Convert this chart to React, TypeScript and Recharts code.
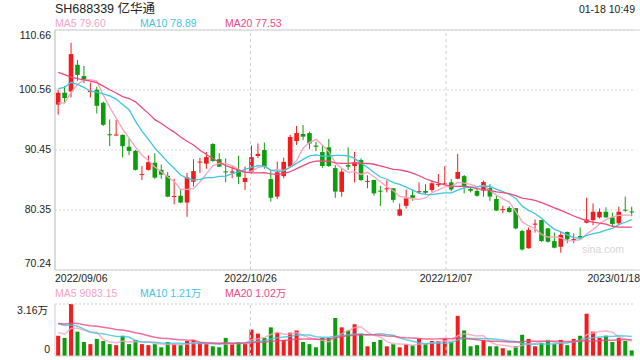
import React from 'react';
import {
  ComposedChart,
  Bar,
  Line,
  XAxis,
  YAxis,
  CartesianGrid,
  ReferenceLine,
  ReferenceArea,
} from 'recharts';

// ---------- data ----------
const title = 'SH688339 亿华通';
const timeLabel = '01-18 10:49';
const priceLegend = ['MA5 79.60', 'MA10 78.89', 'MA20 77.53'];
const volLegend = ['MA5 9083.15', 'MA10 1.21万', 'MA20 1.02万'];
const priceTicks = [70.24, 80.35, 90.45, 100.56, 110.66];
const priceTickLabels = ['70.24', '80.35', '90.45', '100.56', '110.66'];
const volTicks = [0, 31600];
const volTickLabels = ['0', '3.16万'];
const dateTickPos = [0, 30, 60, 90];
const dateTickLabels = ['2022/09/06', '2022/10/26', '2022/12/07', '2023/01/18'];

// closes before the visible window (only used for moving averages)
const priorCloses = [
  107.0, 114.6, 108.5, 106.5, 104.5, 103.1, 106.5, 105.0, 104.0, 103.1,
  97.0, 98.1, 106.6, 107.2, 106.9, 99.5, 97.5, 96.5, 98.4,
];
const priorVolumes = [
  18000, 22000, 17000, 25000, 20000, 16000, 21000, 19000, 23000, 17000,
  24000, 28000, 22000, 27000, 26000, 16000, 13000, 15000, 14700,
];

const opens = [
  98.1, 100.1, 100.3, 104.8, 102.9, 100.2, 100.6, 98.4, 93.1, 92.95,
  93.0, 91.0, 90.3, 86.25, 87.1, 88.3, 87.1, 86.1, 82.55, 82.75,
  81.6, 85.1, 88.4, 88.15, 91.45, 88.9, 86.85, 86.65, 87.1, 85.05,
  86.8, 89.45, 90.45, 85.55, 82.6, 86.05, 87.65, 91.95, 93.15, 93.3,
  91.2, 90.1, 90.9, 87.4, 83.4, 87.9, 87.75, 88.75, 85.1, 85.4,
  83.6, 83.85, 84.0, 79.4, 81.05, 82.85, 83.35, 83.55, 83.7, 84.6,
  84.7, 85.0, 85.6, 86.05, 83.9, 83.55, 83.6, 84.05, 82.2, 80.4,
  80.7, 80.65, 76.8, 73.9, 77.95, 78.65, 77.25, 75.1, 74.15, 76.65,
  75.35, 75.95, 78.2, 78.65, 79.1, 80.05, 79.1, 78.1, 80.4, 80.1,
];
const highs = [
  100.6, 101.2, 108.5, 105.6, 104.6, 101.8, 101.1, 98.6, 95.6, 95.5,
  93.05, 92.4, 90.45, 87.75, 89.55, 89.9, 88.0, 86.75, 85.6, 83.7,
  86.6, 88.9, 89.15, 90.1, 91.6, 89.9, 89.05, 87.75, 89.5, 87.65,
  91.2, 91.55, 91.7, 87.1, 88.5, 89.15, 93.0, 94.5, 94.65, 93.55,
  91.85, 91.3, 92.3, 87.9, 87.35, 90.9, 90.15, 89.05, 86.2, 85.45,
  84.4, 85.35, 84.05, 81.45, 83.8, 83.7, 85.0, 84.7, 85.3, 86.4,
  87.75, 85.55, 89.8, 86.25, 84.25, 83.95, 85.3, 84.7, 82.7, 81.05,
  81.0, 80.7, 77.0, 77.4, 78.75, 78.7, 77.3, 76.55, 76.7, 76.7,
  76.4, 77.4, 82.4, 81.45, 80.6, 80.8, 79.9, 80.9, 82.6, 80.9,
];
const lows = [
  96.4, 98.4, 99.3, 102.1, 101.7, 99.3, 96.6, 94.5, 91.1, 92.9,
  89.2, 89.6, 87.0, 85.4, 87.0, 85.6, 85.6, 82.5, 81.3, 81.5,
  79.2, 84.3, 86.6, 87.3, 88.5, 87.6, 85.0, 85.7, 84.7, 83.7,
  86.5, 89.1, 87.3, 81.75, 82.2, 85.7, 87.6, 91.3, 92.1, 90.6,
  90.3, 87.45, 87.6, 82.4, 82.6, 87.1, 85.0, 85.2, 84.0, 82.75,
  81.05, 83.3, 81.6, 79.3, 80.6, 81.9, 83.05, 83.05, 83.4, 84.25,
  84.6, 83.5, 85.55, 83.15, 83.3, 82.6, 82.6, 81.9, 80.2, 79.8,
  79.9, 77.1, 73.5, 73.85, 76.55, 75.0, 74.85, 73.9, 73.15, 74.75,
  74.75, 75.4, 78.1, 77.8, 78.9, 79.05, 77.65, 78.0, 80.05, 79.3,
];
const closes = [
  100.1, 99.2, 106.6, 103.1, 102.2, 100.4, 97.9, 94.7, 93.0, 93.05,
  91.1, 90.3, 87.1, 86.4, 88.4, 85.8, 86.3, 82.6, 82.7, 81.6,
  85.85, 86.9, 88.5, 89.25, 88.6, 87.65, 86.7, 86.85, 85.95, 85.75,
  89.25, 89.8, 87.65, 82.4, 86.7, 88.45, 92.65, 93.3, 92.7, 91.55,
  91.0, 87.75, 87.75, 83.45, 86.8, 87.65, 88.35, 85.4, 85.25, 83.15,
  83.45, 84.0, 82.05, 80.45, 82.3, 82.4, 83.5, 83.25, 84.85, 84.7,
  84.85, 83.8, 86.75, 84.25, 83.6, 82.75, 85.05, 82.6, 80.25, 80.5,
  80.0, 77.25, 73.7, 77.0, 78.05, 75.1, 75.0, 74.0, 76.15, 75.4,
  75.45, 75.7, 78.75, 80.05, 80.05, 79.1, 78.0, 80.05, 80.25, 80.0,
];
const volumes = [
  12300, 11000, 31600, 14800, 8500, 7200, 10400, 9100, 7200, 6600,
  12300, 7200, 9800, 7200, 6600, 7200, 5300, 8500, 7200, 6600,
  9100, 9800, 7800, 7200, 5900, 5300, 11000, 7200, 8500, 7200,
  16100, 13600, 11000, 17400, 14200, 9800, 14200, 15500, 8500, 7200,
  5300, 11000, 11000, 23100, 17400, 15500, 19300, 13600, 5900, 8500,
  9800, 5900, 7200, 5300, 7200, 6600, 10400, 7200, 9100, 9100,
  10400, 8500, 24400, 15500, 5900, 6600, 9800, 5900, 5900, 4700,
  3400, 5900, 12900, 10400, 5900, 7800, 9800, 7200, 9800, 6600,
  10400, 12300, 25700, 14800, 11000, 12300, 8500, 11000, 9100, 3400,
];

// ---------- styles ----------
const RED = '#f21c1c';
const GREEN = '#0b9d0b';
const MA5C = '#f7a3bf';
const MA10C = '#3fc5e2';
const MA20C = '#ec4a7f';
const FONT = '"Liberation Sans", Arial, "Noto Sans CJK SC", sans-serif';
const TXT = '#222';
const FRAME = '#cfcfcf';
const GRIDV = '#cccccc';

const P = priorCloses.length;
const allCloses = [...priorCloses, ...closes];
const allVols = [...priorVolumes, ...volumes];
const avg = (arr: number[], n: number, k: number) => {
  let s = 0;
  for (let j = k + P - n + 1; j <= k + P; j++) s += arr[j];
  return s / n;
};

const data = closes.map((c, k) => ({
  i: k,
  open: opens[k],
  high: highs[k],
  low: lows[k],
  close: c,
  range: [lows[k], highs[k]],
  up: c >= opens[k],
  ma5: avg(allCloses, 5, k),
  ma10: avg(allCloses, 10, k),
  ma20: avg(allCloses, 20, k),
  vol: volumes[k],
  vma5: avg(allVols, 5, k),
  vma10: avg(allVols, 10, k),
  vma20: avg(allVols, 20, k),
}));

// ---------- shapes ----------
const Candle = (props: any) => {
  const { x, y, width, height, payload } = props;
  const top = Math.min(y, y + height);
  const h = Math.abs(height);
  const { open, close, high, low, up } = payload;
  const color = up ? RED : GREEN;
  const ppu = h / (high - low);
  const yO = top + (high - open) * ppu;
  const yC = top + (high - close) * ppu;
  const cx = x + width / 2;
  const bw = 4.6;
  const bTop = Math.min(yO, yC);
  const bh = Math.max(1, Math.abs(yO - yC));
  return (
    <g>
      <line x1={cx} x2={cx} y1={top} y2={top + h} stroke={color} strokeWidth={1} />
      <rect x={cx - bw / 2} y={bTop} width={bw} height={bh} fill={color} />
    </g>
  );
};

const VolBar = (props: any) => {
  const { x, y, width, height, payload } = props;
  const top = Math.min(y, y + height);
  const h = Math.abs(height);
  const bw = 4;
  return (
    <rect
      x={x + width / 2 - bw / 2}
      y={top}
      width={bw}
      height={h}
      fill={payload.up ? RED : GREEN}
    />
  );
};

const PriceTick = (props: any) => {
  const { x, y, index } = props;
  const last = priceTicks.length - 1;
  const dy = index === 0 ? -2.7 : index === last ? 9.3 : 3.3;
  return (
    <text x={x - 4} y={y + dy} textAnchor="end" fontSize={10.5} fontFamily={FONT} fill={TXT}>
      {priceTickLabels[index]}
    </text>
  );
};

const VolTick = (props: any) => {
  const { x, y, index } = props;
  const dy = index === 0 ? -3 : 10;
  const dx = index === 0 ? -5 : -7;
  return (
    <text x={x + dx} y={y + dy} textAnchor="end" fontSize={10.5} fontFamily={FONT} fill={TXT}>
      {volTickLabels[index]}
    </text>
  );
};

// date label drawn under a vertical reference line, using the line's viewBox
const DateLabel = (props: any) => {
  const { viewBox, idx } = props;
  if (!viewBox) return null;
  const last = dateTickPos.length - 1;
  const anchor = idx === 0 ? 'start' : idx === last ? 'end' : 'middle';
  const dx = idx === last ? -1.5 : 0;
  return (
    <text
      x={viewBox.x + dx}
      y={viewBox.y + viewBox.height + 11.7}
      textAnchor={anchor}
      fontSize={10.5}
      fontFamily={FONT}
      fill={TXT}
    >
      {dateTickLabels[idx]}
    </text>
  );
};

export default function App() {
  const legendX = [55, 140, 225];
  const legendC = [MA5C, MA10C, MA20C];
  const lastDate = dateTickPos.length - 1;
  return (
    <div style={{ position: 'absolute', left: 0, top: 0, width: 640, height: 360, background: '#fff' }}>
      {/* price panel */}
      <div style={{ position: 'absolute', left: 0, top: 0 }}>
        <ComposedChart
          width={640}
          height={290}
          data={data}
          margin={{ top: 30, right: 5, bottom: 20, left: 0 }}
        >
          <CartesianGrid vertical={false} stroke="#d8d8d8" strokeDasharray="2 2" />
          <XAxis dataKey="i" hide />
          <XAxis xAxisId="d" type="number" domain={[0, 90]} allowDataOverflow hide />
          <YAxis
            domain={[70.24, 110.66]}
            ticks={priceTicks}
            interval={0}
            allowDataOverflow
            width={55}
            axisLine={false}
            tickLine={false}
            tickSize={0}
            tickMargin={0}
            tick={<PriceTick />}
          />
          {dateTickPos.map((p, j) => {
            const edge = j === 0 || j === lastDate;
            return (
              <ReferenceLine
                key={'d' + j}
                xAxisId="d"
                x={p}
                ifOverflow="visible"
                stroke={edge ? FRAME : GRIDV}
                strokeDasharray={edge ? undefined : '3 3'}
                label={<DateLabel idx={j} />}
              />
            );
          })}
          <ReferenceArea
            xAxisId="d"
            x1={0}
            x2={90}
            y1={70.24}
            y2={110.66}
            ifOverflow="visible"
            fill="none"
            fillOpacity={0}
            stroke={FRAME}
            strokeOpacity={1}
          />
          <Bar dataKey="range" shape={Candle} isAnimationActive={false} />
          <Line dataKey="ma5" stroke={MA5C} strokeWidth={1.3} dot={false} isAnimationActive={false} />
          <Line dataKey="ma10" stroke={MA10C} strokeWidth={1.3} dot={false} isAnimationActive={false} />
          <Line dataKey="ma20" stroke={MA20C} strokeWidth={1.3} dot={false} isAnimationActive={false} />
        </ComposedChart>
      </div>

      {/* volume panel */}
      <div style={{ position: 'absolute', left: 0, top: 0 }}>
        <ComposedChart
          width={640}
          height={360}
          data={data}
          margin={{ top: 304, right: 5, bottom: 4, left: 0 }}
        >
          <XAxis dataKey="i" hide />
          <XAxis xAxisId="d" type="number" domain={[0, 90]} allowDataOverflow hide />
          <YAxis
            domain={[0, 31600]}
            ticks={volTicks}
            interval={0}
            allowDataOverflow
            width={55}
            axisLine={false}
            tickLine={false}
            tickSize={0}
            tickMargin={0}
            tick={<VolTick />}
          />
          <ReferenceLine xAxisId="d" x={30} ifOverflow="visible" stroke={GRIDV} strokeDasharray="3 3" />
          <ReferenceLine xAxisId="d" x={60} ifOverflow="visible" stroke={GRIDV} strokeDasharray="3 3" />
          <ReferenceLine y={31600} ifOverflow="visible" stroke={GRIDV} strokeDasharray="2 2" />
          <ReferenceLine xAxisId="d" x={0} ifOverflow="visible" stroke={FRAME} />
          <ReferenceLine xAxisId="d" x={90} ifOverflow="visible" stroke={FRAME} />
          <ReferenceLine y={0} ifOverflow="visible" stroke={FRAME} />
          <Bar dataKey="vol" shape={VolBar} isAnimationActive={false} />
          <Line dataKey="vma5" stroke={MA5C} strokeWidth={1.5} strokeOpacity={0.8} dot={false} isAnimationActive={false} />
          <Line dataKey="vma10" stroke={MA10C} strokeWidth={1.5} strokeOpacity={0.8} dot={false} isAnimationActive={false} />
          <Line dataKey="vma20" stroke={MA20C} strokeWidth={1.5} strokeOpacity={0.8} dot={false} isAnimationActive={false} />
        </ComposedChart>
      </div>

      {/* header texts */}
      <svg
        width={640}
        height={360}
        style={{ position: 'absolute', left: 0, top: 0, pointerEvents: 'none' }}
      >
        <text x={55} y={12.5} fontSize={12.5} fontFamily={FONT} fill={TXT}>
          {title}
        </text>
        <text x={635} y={12.7} fontSize={10.5} fontFamily={FONT} fill={TXT} textAnchor="end">
          {timeLabel}
        </text>
        {priceLegend.map((t, j) => (
          <text key={'p' + j} x={legendX[j]} y={27.3} fontSize={10.5} fontFamily={FONT} fill={legendC[j]}>
            {t}
          </text>
        ))}
        {volLegend.map((t, j) => (
          <text key={'v' + j} x={legendX[j]} y={297.3} fontSize={10.5} fontFamily={FONT} fill={legendC[j]}>
            {t}
          </text>
        ))}
        <text x={582} y={253} fontSize={10.5} fontFamily={FONT} fill="#d6d6d6">
          sina.com
        </text>
      </svg>
    </div>
  );
}
